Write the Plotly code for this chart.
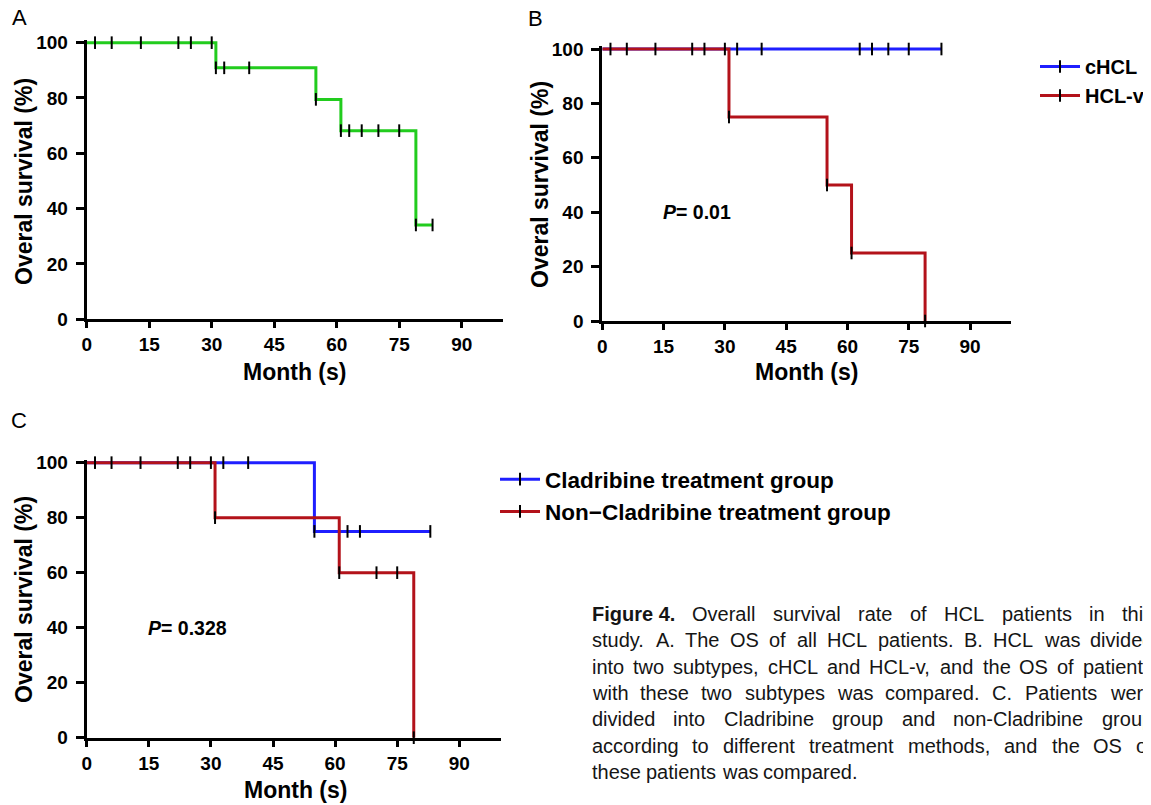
import plotly.graph_objects as go

# ---------------- data ----------------
# Panel A: all HCL patients
a_time = [0, 31, 55, 61, 79, 83]
a_surv = [100, 90.9, 79.5, 68.2, 34.1, 34.1]
a_cens_time = [2, 6, 13, 22, 25, 30, 31, 33, 39, 55, 61, 63, 66, 70, 75, 79, 83]
a_cens_surv = [100, 100, 100, 100, 100, 100, 90.9, 90.9, 90.9, 79.5, 68.2, 68.2, 68.2, 68.2, 68.2, 34.1, 34.1]

# Panel B: cHCL vs HCL-v
b1_name = "cHCL"
b1_time = [0, 83]
b1_surv = [100, 100]
b1_cens_time = [2, 6, 13, 22, 25, 30, 33, 39, 63, 66, 70, 75, 83]
b1_cens_surv = [100] * 13
b2_name = "HCL-v"
b2_time = [0, 31, 55, 61, 79]
b2_surv = [100, 75, 50, 25, 0]
b2_cens_time = [31, 55, 61, 79]
b2_cens_surv = [75, 50, 25, 0]
b_pvalue = "0.01"

# Panel C: Cladribine vs non-Cladribine
c1_name = "Cladribine treatment group"
c1_time = [0, 55, 83]
c1_surv = [100, 75, 75]
c1_cens_time = [2, 6, 13, 22, 25, 30, 33, 39, 55, 63, 66, 83]
c1_cens_surv = [100, 100, 100, 100, 100, 100, 100, 100, 75, 75, 75, 75]
c2_name = "Non\u2212Cladribine treatment group"
c2_time = [0, 31, 61, 79]
c2_surv = [100, 80, 60, 0]
c2_cens_time = [31, 61, 70, 75, 79]
c2_cens_surv = [80, 60, 60, 60, 0]
c_pvalue = "0.328"

x_ticks = [0, 15, 30, 45, 60, 75, 90]
y_ticks = [0, 20, 40, 60, 80, 100]
x_title = "Month (s)"
y_title = "Overal survival (%)"

caption_bold = "Figure 4."
caption_lines = [
    "Overall survival rate of HCL patients in this",
    "study. A. The OS of all HCL patients. B. HCL was divided",
    "into two subtypes, cHCL and HCL-v, and the OS of patients",
    "with these two subtypes was compared. C. Patients were",
    "divided into Cladribine group and non-Cladribine group",
    "according to different treatment methods, and the OS of",
    "these patients was compared.",
]

# ---------------- style ----------------
W, H = 1151, 805
OFF = 8  # page body margin in the browser
FONT = "Arial, Liberation Sans, sans-serif"
GREEN = "#22CC1E"
BLUE = "#1F1FFF"
RED = "#B3121A"

CAP_SIZE = 20
CAP_LEFT, CAP_RIGHT = 592.7, 1154.0
CAP_TOP, CAP_STEP = 613.7, 26.4

# Arial / Liberation Sans advance widths (per 1000 em) for the caption layout
AW = dict(zip("abcdefghijklmnopqrstuvwxyz",
              [556, 556, 500, 556, 556, 278, 556, 556, 222, 222, 500, 222, 833,
               556, 556, 556, 556, 333, 500, 278, 556, 500, 722, 500, 500, 500]))
AW.update({"A": 667, "B": 667, "C": 722, "D": 722, "E": 667, "F": 611, "G": 778, "H": 722,
           "I": 278, "L": 556, "O": 778, "P": 667, "S": 667, "T": 611, " ": 278, ".": 278,
           ",": 278, "-": 333, "4": 556})
AW_BOLD = {"F": 611, "i": 278, "g": 611, "u": 611, "r": 389, "e": 556, " ": 278, "4": 556, ".": 278}


def text_w(s, table=AW):
    return sum(table.get(ch, 556) for ch in s) * CAP_SIZE / 1000.0


def px(x):
    return (x - OFF) / W


def py(y):
    return 1 - (y - OFF) / H


fig = go.Figure()

cens_marker = dict(symbol="line-ns", size=9, color="black", line=dict(width=2, color="black"))


def curve(t, s, color, xa, ya):
    fig.add_trace(go.Scatter(x=t, y=s, mode="lines", line=dict(color=color, width=3, shape="hv"),
                             xaxis=xa, yaxis=ya, showlegend=False, hoverinfo="skip"))


def cens(t, s, xa, ya):
    fig.add_trace(go.Scatter(x=t, y=s, mode="markers", marker=cens_marker, cliponaxis=False,
                             xaxis=xa, yaxis=ya, showlegend=False, hoverinfo="skip"))


def legend_item(name, color, xa, ya, leg):
    fig.add_trace(go.Scatter(x=[None], y=[None], mode="lines+markers", name=name,
                             line=dict(color=color, width=3), marker=cens_marker,
                             xaxis=xa, yaxis=ya, legend=leg, showlegend=True))


# Panel A
curve(a_time, a_surv, GREEN, "x", "y")
cens(a_cens_time, a_cens_surv, "x", "y")
# Panel B
curve(b1_time, b1_surv, BLUE, "x2", "y2")
curve(b2_time, b2_surv, RED, "x2", "y2")
cens(b1_cens_time, b1_cens_surv, "x2", "y2")
cens(b2_cens_time, b2_cens_surv, "x2", "y2")
legend_item(b1_name, BLUE, "x2", "y2", "legend")
legend_item(b2_name, RED, "x2", "y2", "legend")
# Panel C
curve(c1_time, c1_surv, BLUE, "x3", "y3")
curve(c2_time, c2_surv, RED, "x3", "y3")
cens(c1_cens_time, c1_cens_surv, "x3", "y3")
cens(c2_cens_time, c2_cens_surv, "x3", "y3")
legend_item(c1_name, BLUE, "x3", "y3", "legend2")
legend_item(c2_name, RED, "x3", "y3", "legend2")

panels = {
    # name: (x0px, x100px, y0px, y101px)
    "1": (86.7, 503.4, 319.3, 39.9),
    "2": (602.3, 1010.9, 321.0, 46.3),
    "3": (86.7, 500.7, 737.7, 459.9),
}

axis_common = dict(showline=True, linewidth=3, linecolor="black", ticks="outside",
                   tickwidth=2.5, tickcolor="black", showgrid=False, zeroline=False,
                   tickfont=dict(family=FONT, size=19, color="black", weight="bold"))

layout_axes = {}
for k, (x0, x100, y0, y101) in panels.items():
    suffix = "" if k == "1" else k
    layout_axes["xaxis" + suffix] = dict(axis_common, domain=[px(x0), px(x100)], range=[0, 100],
                                         tickvals=x_ticks, anchor="y" + suffix, ticklen=6)
    layout_axes["yaxis" + suffix] = dict(axis_common, domain=[py(y0), py(y101)], range=[0, 101],
                                         tickvals=y_ticks, anchor="x" + suffix, ticklen=8,
                                         ticklabelstandoff=4)

fig.update_layout(**layout_axes)

ann = []
title_font = dict(family=FONT, size=23, color="black", weight="bold")
# axis titles
for (xc, yc) in [(294, 372), (806, 372), (295, 790)]:
    ann.append(dict(x=px(xc), y=py(yc), xref="paper", yref="paper", text=x_title, showarrow=False,
                    font=title_font, xanchor="center", yanchor="middle"))
for (xc, yc) in [(24, 182), (540, 185), (24, 600)]:
    ann.append(dict(x=px(xc), y=py(yc), xref="paper", yref="paper", text=y_title, showarrow=False,
                    font=title_font, textangle=-90, xanchor="center", yanchor="middle"))
# panel letters
for (lab, xc, yc) in [("A", 19.5, 17.5), ("B", 535.5, 18), ("C", 19, 420)]:
    ann.append(dict(x=px(xc), y=py(yc), xref="paper", yref="paper", text=lab, showarrow=False,
                    font=dict(family=FONT, size=22, color="black"), xanchor="center", yanchor="middle",
                    borderpad=0))
# p values
p_font = dict(family=FONT, size=19.5, color="black", weight="bold")
ann.append(dict(x=15, y=40, xref="x2", yref="y2", text="<i>P</i>= " + b_pvalue, showarrow=False,
                font=p_font, xanchor="left", yanchor="middle", xshift=-3))
ann.append(dict(x=15, y=40, xref="x3", yref="y3", text="<i>P</i>= " + c_pvalue, showarrow=False,
                font=p_font, xanchor="left", yanchor="middle", xshift=-3))

# caption: justified lines (last line left aligned), one text per word
cap_font = dict(family=FONT, size=CAP_SIZE, color="#151515")
for i, line in enumerate(caption_lines):
    words = [(w, "<b>" + w + "</b>", text_w(w, AW_BOLD)) for w in ([caption_bold] if i == 0 else [])]
    words += [(w, w, text_w(w)) for w in line.split(" ")]
    yc = CAP_TOP + i * CAP_STEP
    if i == len(caption_lines) - 1:
        gap = text_w(" ")
    else:
        gap = (CAP_RIGHT - CAP_LEFT - sum(w[2] for w in words)) / (len(words) - 1)
    x = CAP_LEFT
    for _, txt, wdt in words:
        ann.append(dict(x=px(x), y=py(yc), xref="paper", yref="paper", text=txt, showarrow=False,
                        font=cap_font, xanchor="left", yanchor="middle", borderpad=0, xshift=-2))
        x += wdt + gap

fig.update_layout(
    width=W, height=H, margin=dict(l=0, r=0, t=0, b=0, autoexpand=False),
    paper_bgcolor="white", plot_bgcolor="white",
    annotations=ann,
    legend=dict(x=px(1035), y=py(47), xanchor="left", yanchor="top", bgcolor="rgba(0,0,0,0)",
                itemwidth=40,
                font=dict(family=FONT, size=20, color="black", weight="bold"), traceorder="normal"),
    legend2=dict(x=px(495), y=py(458), xanchor="left", yanchor="top", bgcolor="rgba(0,0,0,0)",
                 itemwidth=40,
                 font=dict(family=FONT, size=22.5, color="black", weight="bold"), traceorder="normal"),
)

fig.write_html("out.html")
